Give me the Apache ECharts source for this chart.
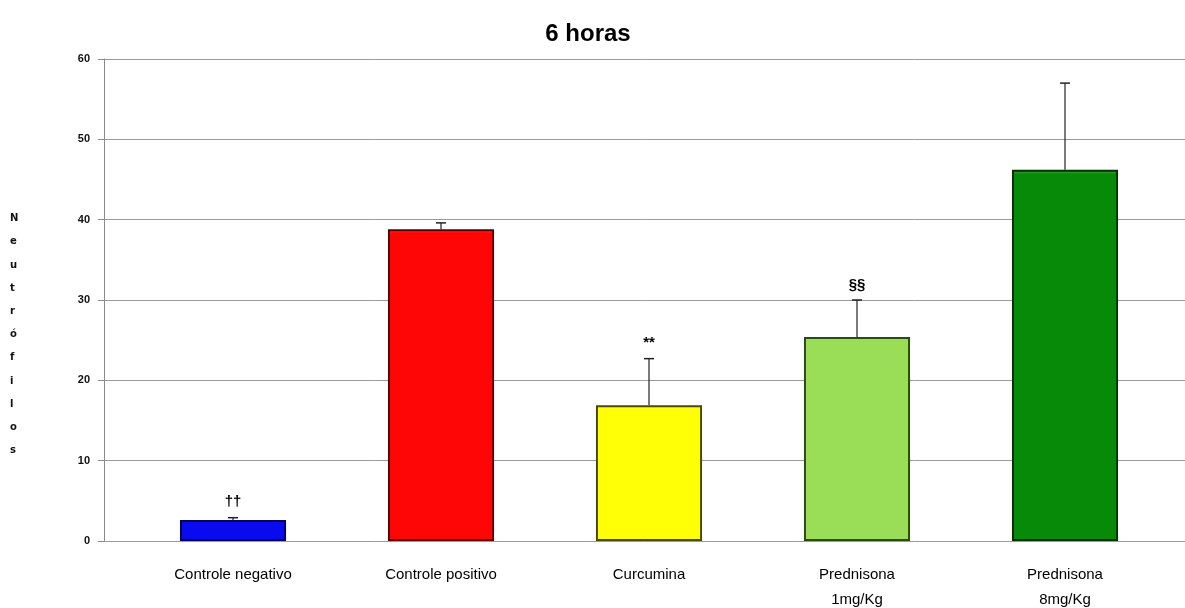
<!DOCTYPE html>
<html>
<head>
<meta charset="utf-8">
<script src="https://cdn.jsdelivr.net/npm/echarts@6/dist/echarts.min.js"></script>
<style>
  html, body { margin: 0; padding: 0; background: #fff; }
  #chart { width: 1185px; height: 608px; }
</style>
</head>
<body>
<div id="chart"></div>
<script>
// Groups, mean neutrophil counts and their error (SD) bars
const categories = ['Controle negativo', 'Controle positivo', 'Curcumina', 'Prednisona\n1mg/Kg', 'Prednisona\n8mg/Kg'];
const means = [2.6, 38.8, 16.9, 25.4, 46.2];
const errors = [0.3, 0.8, 5.8, 4.6, 10.8];
const marks = ['††', '', '**', '§§', ''];
const yTicks = [0, 10, 20, 30, 40, 50, 60];

const fills = ['#0a0af0', '#ff0606', '#ffff06', '#9ade58', '#078a07'];
const edges = ['#04045a', '#5a0000', '#4a4a00', '#2e4a14', '#053005'];

const chart = echarts.init(document.getElementById('chart'));

const gridTop = 59, gridBottom = 67;

chart.setOption({
  animation: false,
  title: {
    text: '6 horas',
    left: 583, top: 17, textAlign: 'center',
    textStyle: { fontFamily: 'Liberation Sans, Arial', fontSize: 24, fontWeight: 'bold', color: '#000' }
  },
  graphic: [{
    type: 'text',
    left: 10, top: 207,
    style: {
      text: 'Neutrófilos'.split('').join('\n'),
      font: 'bold 10px "DejaVu Sans", Arial',
      lineHeight: 23.2,
      align: 'center',
      fill: '#111'
    }
  }],
  grid: [
    // value scale and horizontal rules across the full width
    { left: 104, right: 0, top: gridTop, bottom: gridBottom, outerBoundsMode: 'none', containLabel: false },
    // bars, placed on their own category band
    { left: 129, right: 16, top: gridTop, bottom: gridBottom, outerBoundsMode: 'none', containLabel: false }
  ],
  xAxis: [
    { gridIndex: 0, type: 'value', min: 0, max: 1, show: false },
    {
      gridIndex: 1, type: 'category', data: categories,
      axisLine: { show: false }, axisTick: { show: false },
      axisLabel: {
        margin: 21, lineHeight: 25, color: '#000',
        fontFamily: 'Liberation Sans, Arial', fontSize: 15
      }
    }
  ],
  yAxis: [
    {
      gridIndex: 0, type: 'value', min: 0, max: 60, interval: 10,
      axisLine: { show: true, lineStyle: { color: '#8a8a8a', width: 1 } },
      axisTick: { show: true, length: 6, lineStyle: { color: '#8a8a8a' } },
      axisLabel: {
        margin: 14, color: '#111',
        fontFamily: 'Liberation Sans, Arial', fontSize: 11, fontWeight: 'bold',
        formatter: v => yTicks.includes(v) ? String(v) : ''
      },
      splitLine: { show: true, lineStyle: { color: '#9a9a9a', width: 1 } }
    },
    { gridIndex: 1, type: 'value', min: 0, max: 60, interval: 10, show: false, splitLine: { show: false } }
  ],
  series: [
    {
      type: 'bar',
      xAxisIndex: 1, yAxisIndex: 1,
      barWidth: '51%',
      data: means.map((v, i) => ({
        value: v,
        itemStyle: {
          color: {
            type: 'linear', x: 0, y: 0, x2: 0, y2: 1,
            colorStops: [
              { offset: 0, color: echarts.color.lift(fills[i], 0.25) },
              { offset: 0.012, color: fills[i] },
              { offset: 1, color: fills[i] }
            ]
          },
          borderColor: edges[i],
          borderWidth: 2
        }
      }))
    },
    {
      type: 'custom',
      xAxisIndex: 1, yAxisIndex: 1,
      z: 5,
      data: means.map((m, i) => [i, m, m + errors[i]]),
      renderItem: (params, api) => {
        const i = api.value(0);
        const base = api.coord([i, api.value(1)]);
        const top = api.coord([i, api.value(2)]);
        const cap = 5;
        const children = [
          { type: 'line', shape: { x1: base[0], y1: base[1], x2: top[0], y2: top[1] }, style: { stroke: '#222', lineWidth: 1.2 } },
          { type: 'line', shape: { x1: top[0] - cap, y1: top[1], x2: top[0] + cap, y2: top[1] }, style: { stroke: '#222', lineWidth: 1.5 } }
        ];
        if (marks[i]) {
          children.push({
            type: 'text',
            style: {
              x: top[0], y: top[1] - 8,
              text: marks[i],
              align: 'center', verticalAlign: 'bottom',
              font: 'bold 15px "Liberation Sans", Arial',
              fill: '#000'
            }
          });
        }
        return { type: 'group', children };
      }
    }
  ]
});
</script>
</body>
</html>
